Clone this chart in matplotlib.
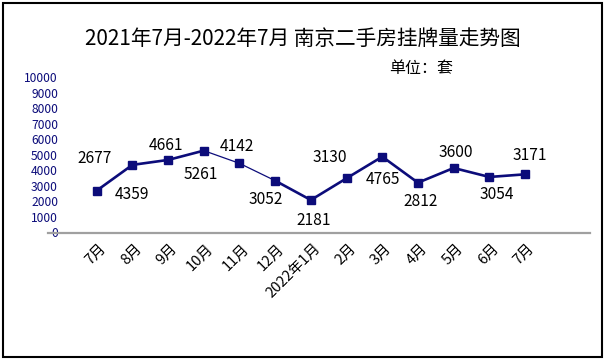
"""
南京二手房挂牌量走势图（2021年7月-2022年7月）
"""
import matplotlib.pyplot as plt
from matplotlib.patches import Rectangle
from matplotlib.transforms import ScaledTranslation

plt.rcParams['font.family'] = ['Noto Sans CJK SC', 'DejaVu Sans']

months = ["7月", "8月", "9月", "10月", "11月", "12月", "2022年1月",
          "2月", "3月", "4月", "5月", "6月", "7月"]
# numbers printed next to the points
label_values = [2677, 4359, 4661, 5261, 4142, 3052, 2181,
                3130, 4765, 2812, 3600, 3054, 3171]
# heights at which the points sit in the picture
plotted = [2677, 4340, 4660, 5261, 4440, 3320, 2070,
           3475, 4870, 3190, 4140, 3560, 3730]
y_ticks = list(range(0, 10001, 1000))

title = "2021年7月-2022年7月 南京二手房挂牌量走势图"
unit = "单位：套"

NAVY = "#0c0c7a"
W, H = 607, 364

# label offsets in pixels (dx, dy)
label_offsets = [(-2, 32), (0, -30), (-2, 14), (-3, -24), (-3, 17), (-9, -19),
                 (3, -20), (-17, 21), (1, -23), (3, -19), (2, 15), (7, -18), (5, 19)]
seg_lw = [1.9, 1.9, 1.9, 0.9, 0.9, 1.9, 1.9, 1.9, 1.9, 1.9, 1.9, 1.9]

fig = plt.figure(figsize=(W / 100, H / 100), dpi=100)
fig.add_artist(Rectangle((3 / W, 1 - 357 / H), (602 - 3) / W, (357 - 3) / H,
                         transform=fig.transFigure, fill=False,
                         ec="black", lw=1.5))

ax = fig.add_axes([48 / W, 1 - 233 / H, (590 - 48) / W, (233 - 70) / H])
x = list(range(len(months)))

for i in range(len(x) - 1):
    ax.plot(x[i:i + 2], plotted[i:i + 2], color=NAVY, lw=seg_lw[i],
            solid_capstyle="round")
ax.plot(x, plotted, ls="none", marker="s", ms=5.8, color=NAVY)

for xi, yi, v, (dx, dy) in zip(x, plotted, label_values, label_offsets):
    ax.annotate(str(v), (xi, yi), xytext=(dx, dy), textcoords="offset pixels",
                ha="center", va="center", fontsize=11.2, color="black")

ax.set_xlim(-1.364, 13.82)
ax.set_ylim(-60, 10470)

for s in ("top", "left", "right"):
    ax.spines[s].set_visible(False)
ax.spines["bottom"].set_color("#a0a0a0")
ax.spines["bottom"].set_linewidth(1.6)

ax.set_xticks(x, months, rotation=45, ha="right", fontsize=10.5)
ax.tick_params(axis="x", length=0, pad=6)
shift = ScaledTranslation(12 / 100, 0, fig.dpi_scale_trans)
for lbl in ax.get_xticklabels():
    lbl.set_transform(lbl.get_transform() + shift)

ax.set_yticks(y_ticks)
ax.tick_params(axis="y", length=0, pad=-7.2, labelcolor=NAVY, labelsize=8.7)

fig.text(303 / W, 1 - 39 / H, title, ha="center", va="center", fontsize=14.9)
fig.text(421 / W, 1 - 69 / H, unit, ha="center", va="center", fontsize=11.5)

fig.savefig("out.png", dpi=100)
plt.close(fig)
